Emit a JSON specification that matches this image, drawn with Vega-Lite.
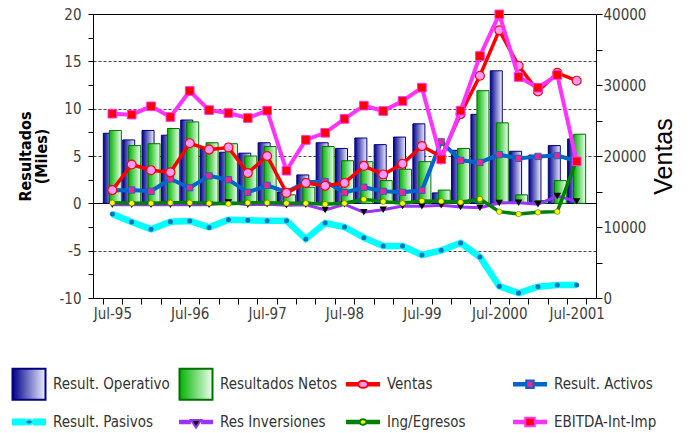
{
  "$schema": "https://vega.github.io/schema/vega-lite/v6.json",
  "width": 503,
  "height": 284,
  "autosize": {"type": "none"},
  "padding": {"left": 93, "top": 14, "right": 100, "bottom": 135},
  "background": "white",
  "data": {
    "values": [
      {"q":"Jul-95","s":"Result. Operativo","v":7.4},{"q":"Oct-95","s":"Result. Operativo","v":6.7},{"q":"Ene-96","s":"Result. Operativo","v":7.7},{"q":"Abr-96","s":"Result. Operativo","v":7.2},{"q":"Jul-96","s":"Result. Operativo","v":8.8},{"q":"Oct-96","s":"Result. Operativo","v":5.8},{"q":"Ene-97","s":"Result. Operativo","v":5.4},{"q":"Abr-97","s":"Result. Operativo","v":5.3},{"q":"Jul-97","s":"Result. Operativo","v":6.4},{"q":"Oct-97","s":"Result. Operativo","v":1.2},{"q":"Ene-98","s":"Result. Operativo","v":3.0},{"q":"Abr-98","s":"Result. Operativo","v":6.4},{"q":"Jul-98","s":"Result. Operativo","v":5.8},{"q":"Oct-98","s":"Result. Operativo","v":6.9},{"q":"Ene-99","s":"Result. Operativo","v":6.2},{"q":"Abr-99","s":"Result. Operativo","v":7.0},{"q":"Jul-99","s":"Result. Operativo","v":8.4},{"q":"Oct-99","s":"Result. Operativo","v":1.1},{"q":"Ene-2000","s":"Result. Operativo","v":5.6},{"q":"Abr-2000","s":"Result. Operativo","v":9.4},{"q":"Jul-2000","s":"Result. Operativo","v":14.0},{"q":"Oct-2000","s":"Result. Operativo","v":5.5},{"q":"Ene-2001","s":"Result. Operativo","v":5.1},{"q":"Abr-2001","s":"Result. Operativo","v":6.1},{"q":"Jul-2001","s":"Result. Operativo","v":6.8},

      {"q":"Jul-95","s":"Resultados Netos","v":7.7},{"q":"Oct-95","s":"Resultados Netos","v":6.1},{"q":"Ene-96","s":"Resultados Netos","v":6.3},{"q":"Abr-96","s":"Resultados Netos","v":7.9},{"q":"Jul-96","s":"Resultados Netos","v":8.6},{"q":"Oct-96","s":"Resultados Netos","v":6.4},{"q":"Ene-97","s":"Resultados Netos","v":6.3},{"q":"Abr-97","s":"Resultados Netos","v":5.0},{"q":"Jul-97","s":"Resultados Netos","v":6.0},{"q":"Oct-97","s":"Resultados Netos","v":0.9},{"q":"Ene-98","s":"Resultados Netos","v":1.7},{"q":"Abr-98","s":"Resultados Netos","v":6.0},{"q":"Jul-98","s":"Resultados Netos","v":4.5},{"q":"Oct-98","s":"Resultados Netos","v":4.4},{"q":"Ene-99","s":"Resultados Netos","v":2.4},{"q":"Abr-99","s":"Resultados Netos","v":3.6},{"q":"Jul-99","s":"Resultados Netos","v":4.4},{"q":"Oct-99","s":"Resultados Netos","v":1.4},{"q":"Ene-2000","s":"Resultados Netos","v":5.8},{"q":"Abr-2000","s":"Resultados Netos","v":11.9},{"q":"Jul-2000","s":"Resultados Netos","v":8.5},{"q":"Oct-2000","s":"Resultados Netos","v":0.9},{"q":"Ene-2001","s":"Resultados Netos","v":0.3},{"q":"Abr-2001","s":"Resultados Netos","v":2.4},{"q":"Jul-2001","s":"Resultados Netos","v":7.3},

      {"q":"Jul-95","s":"Ventas","v":15200},{"q":"Oct-95","s":"Ventas","v":18800},{"q":"Ene-96","s":"Ventas","v":18000},{"q":"Abr-96","s":"Ventas","v":17700},{"q":"Jul-96","s":"Ventas","v":21800},{"q":"Oct-96","s":"Ventas","v":20900},{"q":"Ene-97","s":"Ventas","v":21200},{"q":"Abr-97","s":"Ventas","v":17600},{"q":"Jul-97","s":"Ventas","v":20000},{"q":"Oct-97","s":"Ventas","v":14800},{"q":"Ene-98","s":"Ventas","v":16200},{"q":"Abr-98","s":"Ventas","v":15800},{"q":"Jul-98","s":"Ventas","v":16200},{"q":"Oct-98","s":"Ventas","v":18600},{"q":"Ene-99","s":"Ventas","v":17400},{"q":"Abr-99","s":"Ventas","v":18900},{"q":"Jul-99","s":"Ventas","v":21400},{"q":"Oct-99","s":"Ventas","v":19900},{"q":"Ene-2000","s":"Ventas","v":25900},{"q":"Abr-2000","s":"Ventas","v":31300},{"q":"Jul-2000","s":"Ventas","v":37700},{"q":"Oct-2000","s":"Ventas","v":32700},{"q":"Ene-2001","s":"Ventas","v":29100},{"q":"Abr-2001","s":"Ventas","v":31700},{"q":"Jul-2001","s":"Ventas","v":30600},

      {"q":"Jul-95","s":"Result. Activos","v":1.37},{"q":"Oct-95","s":"Result. Activos","v":1.41},{"q":"Ene-96","s":"Result. Activos","v":1.27},{"q":"Abr-96","s":"Result. Activos","v":2.57},{"q":"Jul-96","s":"Result. Activos","v":1.65},{"q":"Oct-96","s":"Result. Activos","v":2.9},{"q":"Ene-97","s":"Result. Activos","v":2.5},{"q":"Abr-97","s":"Result. Activos","v":1.16},{"q":"Jul-97","s":"Result. Activos","v":1.9},{"q":"Oct-97","s":"Result. Activos","v":1.2},{"q":"Ene-98","s":"Result. Activos","v":2.22},{"q":"Abr-98","s":"Result. Activos","v":2.3},{"q":"Jul-98","s":"Result. Activos","v":1.13},{"q":"Oct-98","s":"Result. Activos","v":1.69},{"q":"Ene-99","s":"Result. Activos","v":1.27},{"q":"Abr-99","s":"Result. Activos","v":1.16},{"q":"Jul-99","s":"Result. Activos","v":1.37},{"q":"Oct-99","s":"Result. Activos","v":6.5},{"q":"Ene-2000","s":"Result. Activos","v":4.54},{"q":"Abr-2000","s":"Result. Activos","v":4.32},{"q":"Jul-2000","s":"Result. Activos","v":5.14},{"q":"Oct-2000","s":"Result. Activos","v":4.75},{"q":"Ene-2001","s":"Result. Activos","v":4.96},{"q":"Abr-2001","s":"Result. Activos","v":5.04},{"q":"Jul-2001","s":"Result. Activos","v":4.47},

      {"q":"Jul-95","s":"Result. Pasivos","v":-1.13},{"q":"Oct-95","s":"Result. Pasivos","v":-1.97},{"q":"Ene-96","s":"Result. Pasivos","v":-2.75},{"q":"Abr-96","s":"Result. Pasivos","v":-1.94},{"q":"Jul-96","s":"Result. Pasivos","v":-1.87},{"q":"Oct-96","s":"Result. Pasivos","v":-2.54},{"q":"Ene-97","s":"Result. Pasivos","v":-1.73},{"q":"Abr-97","s":"Result. Pasivos","v":-1.8},{"q":"Jul-97","s":"Result. Pasivos","v":-1.83},{"q":"Oct-97","s":"Result. Pasivos","v":-1.83},{"q":"Ene-98","s":"Result. Pasivos","v":-3.77},{"q":"Abr-98","s":"Result. Pasivos","v":-2.08},{"q":"Jul-98","s":"Result. Pasivos","v":-2.5},{"q":"Oct-98","s":"Result. Pasivos","v":-3.63},{"q":"Ene-99","s":"Result. Pasivos","v":-4.51},{"q":"Abr-99","s":"Result. Pasivos","v":-4.51},{"q":"Jul-99","s":"Result. Pasivos","v":-5.46},{"q":"Oct-99","s":"Result. Pasivos","v":-4.96},{"q":"Ene-2000","s":"Result. Pasivos","v":-4.19},{"q":"Abr-2000","s":"Result. Pasivos","v":-5.67},{"q":"Jul-2000","s":"Result. Pasivos","v":-8.77},{"q":"Oct-2000","s":"Result. Pasivos","v":-9.47},{"q":"Ene-2001","s":"Result. Pasivos","v":-8.8},{"q":"Abr-2001","s":"Result. Pasivos","v":-8.63},{"q":"Jul-2001","s":"Result. Pasivos","v":-8.63},

      {"q":"Jul-95","s":"Res Inversiones","v":-0.15},{"q":"Oct-95","s":"Res Inversiones","v":-0.15},{"q":"Ene-96","s":"Res Inversiones","v":-0.15},{"q":"Abr-96","s":"Res Inversiones","v":-0.15},{"q":"Jul-96","s":"Res Inversiones","v":-0.15},{"q":"Oct-96","s":"Res Inversiones","v":-0.15},{"q":"Ene-97","s":"Res Inversiones","v":0.1},{"q":"Abr-97","s":"Res Inversiones","v":-0.15},{"q":"Jul-97","s":"Res Inversiones","v":-0.1},{"q":"Oct-97","s":"Res Inversiones","v":-0.2},{"q":"Ene-98","s":"Res Inversiones","v":-0.15},{"q":"Abr-98","s":"Res Inversiones","v":-0.7},{"q":"Jul-98","s":"Res Inversiones","v":-0.1},{"q":"Oct-98","s":"Res Inversiones","v":-0.95},{"q":"Ene-99","s":"Res Inversiones","v":-0.67},{"q":"Abr-99","s":"Res Inversiones","v":-0.28},{"q":"Jul-99","s":"Res Inversiones","v":-0.32},{"q":"Oct-99","s":"Res Inversiones","v":-0.21},{"q":"Ene-2000","s":"Res Inversiones","v":-0.39},{"q":"Abr-2000","s":"Res Inversiones","v":-0.46},{"q":"Jul-2000","s":"Res Inversiones","v":0.04},{"q":"Oct-2000","s":"Res Inversiones","v":0.07},{"q":"Ene-2001","s":"Res Inversiones","v":-0.1},{"q":"Abr-2001","s":"Res Inversiones","v":0.77},{"q":"Jul-2001","s":"Res Inversiones","v":0.21},

      {"q":"Jul-95","s":"Ing/Egresos","v":0.05},{"q":"Oct-95","s":"Ing/Egresos","v":0},{"q":"Ene-96","s":"Ing/Egresos","v":0},{"q":"Abr-96","s":"Ing/Egresos","v":0.05},{"q":"Jul-96","s":"Ing/Egresos","v":0.05},{"q":"Oct-96","s":"Ing/Egresos","v":0},{"q":"Ene-97","s":"Ing/Egresos","v":-0.05},{"q":"Abr-97","s":"Ing/Egresos","v":0.05},{"q":"Jul-97","s":"Ing/Egresos","v":0.05},{"q":"Oct-97","s":"Ing/Egresos","v":0},{"q":"Ene-98","s":"Ing/Egresos","v":0},{"q":"Abr-98","s":"Ing/Egresos","v":-0.1},{"q":"Jul-98","s":"Ing/Egresos","v":0},{"q":"Oct-98","s":"Ing/Egresos","v":0.42},{"q":"Ene-99","s":"Ing/Egresos","v":0.18},{"q":"Abr-99","s":"Ing/Egresos","v":0},{"q":"Jul-99","s":"Ing/Egresos","v":0.25},{"q":"Oct-99","s":"Ing/Egresos","v":0.21},{"q":"Ene-2000","s":"Ing/Egresos","v":0.11},{"q":"Abr-2000","s":"Ing/Egresos","v":0.46},{"q":"Jul-2000","s":"Ing/Egresos","v":-0.88},{"q":"Oct-2000","s":"Ing/Egresos","v":-1.13},{"q":"Ene-2001","s":"Ing/Egresos","v":-0.95},{"q":"Abr-2001","s":"Ing/Egresos","v":-0.88},{"q":"Jul-2001","s":"Ing/Egresos","v":4.6},

      {"q":"Jul-95","s":"EBITDA-Int-Imp","v":9.47},{"q":"Oct-95","s":"EBITDA-Int-Imp","v":9.37},{"q":"Ene-96","s":"EBITDA-Int-Imp","v":10.25},{"q":"Abr-96","s":"EBITDA-Int-Imp","v":9.12},{"q":"Jul-96","s":"EBITDA-Int-Imp","v":11.87},{"q":"Oct-96","s":"EBITDA-Int-Imp","v":9.85},{"q":"Ene-97","s":"EBITDA-Int-Imp","v":9.54},{"q":"Abr-97","s":"EBITDA-Int-Imp","v":9.01},{"q":"Jul-97","s":"EBITDA-Int-Imp","v":9.79},{"q":"Oct-97","s":"EBITDA-Int-Imp","v":3.45},{"q":"Ene-98","s":"EBITDA-Int-Imp","v":6.7},{"q":"Abr-98","s":"EBITDA-Int-Imp","v":7.45},{"q":"Jul-98","s":"EBITDA-Int-Imp","v":8.92},{"q":"Oct-98","s":"EBITDA-Int-Imp","v":10.32},{"q":"Ene-99","s":"EBITDA-Int-Imp","v":9.75},{"q":"Abr-99","s":"EBITDA-Int-Imp","v":10.81},{"q":"Jul-99","s":"EBITDA-Int-Imp","v":12.22},{"q":"Oct-99","s":"EBITDA-Int-Imp","v":4.65},{"q":"Ene-2000","s":"EBITDA-Int-Imp","v":9.79},{"q":"Abr-2000","s":"EBITDA-Int-Imp","v":15.56},{"q":"Jul-2000","s":"EBITDA-Int-Imp","v":19.96},{"q":"Oct-2000","s":"EBITDA-Int-Imp","v":13.35},{"q":"Ene-2001","s":"EBITDA-Int-Imp","v":12.22},{"q":"Abr-2001","s":"EBITDA-Int-Imp","v":13.56},{"q":"Jul-2001","s":"EBITDA-Int-Imp","v":4.44}
    ]
  },
  "encoding": {
    "x": {
      "field": "q",
      "type": "ordinal",
      "scale": {
        "domain": ["Jul-95","Oct-95","Ene-96","Abr-96","Jul-96","Oct-96","Ene-97","Abr-97","Jul-97","Oct-97","Ene-98","Abr-98","Jul-98","Oct-98","Ene-99","Abr-99","Jul-99","Oct-99","Ene-2000","Abr-2000","Jul-2000","Oct-2000","Ene-2001","Abr-2001","Jul-2001"],
        "paddingInner": 0,
        "paddingOuter": 0.5
      },
      "axis": {
        "title": null,
        "labelAngle": 0,
        "labelExpr": "indexof(datum.label, 'Jul') == 0 ? datum.label : ''",
        "labelOverlap": false,
        "tickBand": "extent",
        "tickSize": 6,
        "labelPadding": 2
      }
    }
  },
  "layer": [
    {
      "encoding": {
        "y": {
          "field": "v",
          "type": "quantitative",
          "scale": {"domain": [-10, 20], "nice": false},
          "axis": {
            "values": [-10, -7.5, -5, -2.5, 0, 2.5, 5, 7.5, 10, 12.5, 15, 17.5, 20],
            "labelExpr": "datum.value % 5 == 0 ? '' + datum.value : ''",
            "tickSize": 5,
            "labelPadding": 7,
            "grid": true,
            "gridColor": {"condition": {"test": "datum.value == 0", "value": "black"}, "value": "#444444"},
            "gridDash": {"condition": {"test": "datum.value == 0", "value": []}, "value": [3, 2]},
            "gridOpacity": {"condition": {"test": "datum.value % 5 == 0 && datum.value > -10 && datum.value < 20", "value": 1}, "value": 0},
            "title": ["Resultados", "(Miles)"],
            "titleFont": "DejaVu Sans Condensed, DejaVu Sans, sans-serif",
            "titleFontWeight": "bold",
            "titleFontSize": 16,
            "titleLineHeight": 16,
            "titleColor": "black",
            "titlePadding": 9
          }
        }
      },
      "layer": [
        {
          "transform": [{"filter": {"field": "s", "equal": "Result. Operativo"}}],
          "mark": {
            "type": "bar", "width": 12, "xOffset": -3, "stroke": "#000080", "strokeWidth": 1,
            "fill": {"x1": 0, "y1": 0, "x2": 1, "y2": 0, "gradient": "linear", "stops": [{"offset": 0, "color": "#00008C"}, {"offset": 1, "color": "#EEEEFF"}]}
          }
        },
        {
          "transform": [{"filter": {"field": "s", "equal": "Resultados Netos"}}],
          "mark": {
            "type": "bar", "width": 12, "xOffset": 3, "stroke": "#007000", "strokeWidth": 1,
            "fill": {"x1": 0, "y1": 0, "x2": 1, "y2": 0, "gradient": "linear", "stops": [{"offset": 0, "color": "#00B400"}, {"offset": 1, "color": "#F0FFF0"}]}
          }
        },
        {
          "transform": [{"filter": {"field": "s", "equal": "Result. Activos"}}],
          "mark": {"type": "line", "color": "#0066CC", "strokeWidth": 4}
        },
        {
          "transform": [{"filter": {"field": "s", "equal": "Result. Activos"}}],
          "mark": {"type": "point", "shape": "square", "filled": true, "opacity": 1, "fill": "#F0248C", "stroke": "#0066CC", "strokeWidth": 0.8, "size": 40}
        },
        {
          "transform": [{"filter": {"field": "s", "equal": "Result. Pasivos"}}],
          "mark": {"type": "line", "color": "#00FFFF", "strokeWidth": 6.5}
        },
        {
          "transform": [{"filter": {"field": "s", "equal": "Result. Pasivos"}}],
          "mark": {"type": "point", "shape": "circle", "filled": true, "opacity": 1, "fill": "#0070C0", "strokeWidth": 0, "size": 25}
        },
        {
          "transform": [{"filter": {"field": "s", "equal": "Res Inversiones"}}],
          "mark": {"type": "line", "color": "#9933FF", "strokeWidth": 3}
        },
        {
          "transform": [{"filter": {"field": "s", "equal": "Res Inversiones"}}],
          "mark": {"type": "point", "shape": "triangle-down", "filled": true, "opacity": 1, "fill": "black", "strokeWidth": 0, "size": 55}
        },
        {
          "transform": [{"filter": {"field": "s", "equal": "Ing/Egresos"}}],
          "mark": {"type": "line", "color": "#008000", "strokeWidth": 3.5}
        },
        {
          "transform": [{"filter": {"field": "s", "equal": "Ing/Egresos"}}],
          "mark": {"type": "point", "shape": "circle", "filled": true, "opacity": 1, "fill": "#FFFF00", "stroke": "#556B00", "strokeWidth": 0.6, "size": 30}
        },
        {
          "transform": [{"filter": "false"}],
          "mark": {"type": "point", "filled": true, "opacity": 1, "strokeWidth": 2, "size": 1156},
          "encoding": {
            "fill": {
              "field": "s",
              "type": "nominal",
              "scale": {
                "domain": ["Result. Operativo", "Resultados Netos", "Ventas", "Result. Activos", "Result. Pasivos", "Res Inversiones", "Ing/Egresos", "EBITDA-Int-Imp"],
                "range": [
                  {"expr": "{x1: 0, y1: 0, x2: 1, y2: 0, gradient: 'linear', stops: [{offset: 0, color: '#00008C'}, {offset: 1, color: '#EEEEFF'}]}"},
                  {"expr": "{x1: 0, y1: 0, x2: 1, y2: 0, gradient: 'linear', stops: [{offset: 0, color: '#00B400'}, {offset: 1, color: '#F0FFF0'}]}"},
                  "#FF99FF", "#F0248C", "#0066CC", "black", "#FFFF00", "#FF0000"
                ]
              },
              "legend": {
                "title": null,
                "orient": "none",
                "direction": "horizontal",
                "legendX": -82,
                "legendY": 352,
                "columns": 4,
                "gridAlign": "all",
                "columnPadding": 4,
                "rowPadding": -3,
                "padding": 0,
                "symbolSize": 1156,
                "symbolStrokeWidth": 2,
                "labelFont": "DejaVu Sans Condensed, DejaVu Sans, sans-serif",
                "labelFontSize": 15,
                "labelColor": "#333333",
                "labelOffset": 6,
                "labelLimit": 200
              }
            },
            "stroke": {
              "field": "s",
              "type": "nominal",
              "scale": {
                "domain": ["Result. Operativo", "Resultados Netos", "Ventas", "Result. Activos", "Result. Pasivos", "Res Inversiones", "Ing/Egresos", "EBITDA-Int-Imp"],
                "range": ["#000080", "#007000", "#FF0000", "#0066CC", "#00FFFF", "#9933FF", "#008000", "#FF33FF"]
              }
            },
            "shape": {
              "field": "s",
              "type": "nominal",
              "scale": {
                "domain": ["Result. Operativo", "Resultados Netos", "Ventas", "Result. Activos", "Result. Pasivos", "Res Inversiones", "Ing/Egresos", "EBITDA-Int-Imp"],
                "range": [
                  "M-0.97,-0.91H0.97V0.91H-0.97Z",
                  "M-0.97,-0.91H0.97V0.91H-0.97Z",
                  "M-1,-0.91M1,0.91M-1,-0.07H-0.29M0.29,-0.07H1M-1,0H-0.29M0.29,0H1M-1,0.07H-0.29M0.29,0.07H1M-0.29,0A0.29,0.21 0 1,0 0.29,0A0.29,0.21 0 1,0 -0.29,0Z",
                  "M-1,-0.91M1,0.91M-1,-0.07H-0.22M0.22,-0.07H1M-1,0H-0.22M0.22,0H1M-1,0.07H-0.22M0.22,0.07H1M-0.22,-0.22H0.22V0.22H-0.22Z",
                  "M-1,-0.91M1,0.91M-1,-0.14H-0.22M0.22,-0.14H1M-1,-0.07H-0.22M0.22,-0.07H1M-1,0H-0.22M0.22,0H1M-1,0.07H-0.22M0.22,0.07H1M-1,0.14H-0.22M0.22,0.14H1M-0.22,0A0.22,0.14 0 1,0 0.22,0A0.22,0.14 0 1,0 -0.22,0Z",
                  "M-1,-0.91M1,0.91M-1,-0.07H-0.3M0.3,-0.07H1M-1,0H-0.3M0.3,0H1M-1,0.07H-0.3M0.3,0.07H1M-0.3,-0.12H0.3L0,0.34Z",
                  "M-1,-0.91M1,0.91M-1,-0.07H-0.2M0.2,-0.07H1M-1,0H-0.2M0.2,0H1M-1,0.07H-0.2M0.2,0.07H1M-0.2,0A0.2,0.16 0 1,0 0.2,0A0.2,0.16 0 1,0 -0.2,0Z",
                  "M-1,-0.91M1,0.91M-1,-0.07H-0.28M0.28,-0.07H1M-1,0H-0.28M0.28,0H1M-1,0.07H-0.28M0.28,0.07H1M-0.28,-0.25H0.28V0.25H-0.28Z"
                ]
              }
            }
          }
        }
      ]
    },
    {
      "transform": [{"filter": {"field": "s", "equal": "Ventas"}}],
      "encoding": {
        "y": {
          "field": "v",
          "type": "quantitative",
          "scale": {"domain": [0, 40000], "nice": false},
          "axis": {
            "orient": "right",
            "values": [0, 5000, 10000, 15000, 20000, 25000, 30000, 35000, 40000],
            "labelExpr": "datum.value % 10000 == 0 ? '' + datum.value : ''",
            "tickSize": 6,
            "labelPadding": 1,
            "grid": false,
            "title": "Ventas",
            "titleFont": "Liberation Sans, Arial, sans-serif",
            "titleFontSize": 25,
            "titleFontWeight": "normal",
            "titleColor": "black",
            "titleAngle": 270,
            "titleBaseline": "top",
            "titlePadding": 6
          }
        }
      },
      "layer": [
        {"mark": {"type": "line", "color": "#FF0000", "strokeWidth": 3.5}},
        {"mark": {"type": "point", "shape": "circle", "filled": true, "opacity": 1, "fill": "#FF99FF", "stroke": "#FF0000", "strokeWidth": 1.2, "size": 80}}
      ]
    },
    {
      "transform": [{"filter": {"field": "s", "equal": "EBITDA-Int-Imp"}}],
      "encoding": {
        "y": {"field": "v", "type": "quantitative", "scale": {"domain": [-10, 20], "nice": false}, "axis": null}
      },
      "layer": [
        {"mark": {"type": "line", "color": "#FF33FF", "strokeWidth": 4}},
        {"mark": {"type": "point", "shape": "square", "filled": true, "opacity": 1, "fill": "#FF0000", "stroke": "#FF33FF", "strokeWidth": 1, "size": 75}}
      ]
    }
  ],
  "resolve": {"scale": {"y": "independent"}},
  "config": {
    "view": {"stroke": "black", "strokeWidth": 1},
    "axis": {
      "labelFont": "DejaVu Sans Condensed, DejaVu Sans, sans-serif",
      "labelFontSize": 15,
      "labelColor": "#404040",
      "domainColor": "black",
      "tickColor": "black"
    }
  }
}
